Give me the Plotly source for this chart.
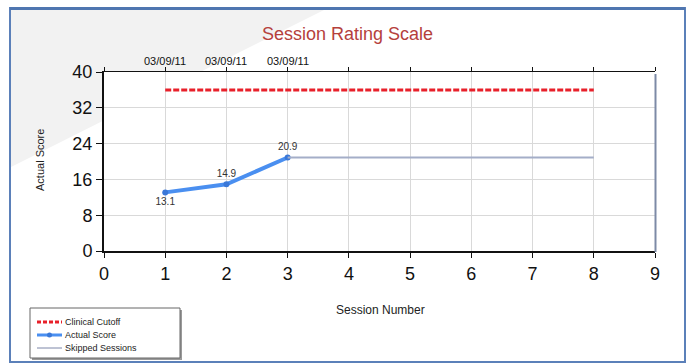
import plotly.graph_objects as go

# Session data
sessions = [1, 2, 3]
scores = [13.1, 14.9, 20.9]
session_dates = ["03/09/11", "03/09/11", "03/09/11"]

cutoff_x = [1, 8]
cutoff_y = [36, 36]

skipped_x = [3, 8]
skipped_y = [20.9, 20.9]

x_ticks = [0, 1, 2, 3, 4, 5, 6, 7, 8, 9]
y_ticks = [0, 8, 16, 24, 32, 40]

legend_names = ["Clinical Cutoff", "Actual Score", "Skipped Sessions"]

W, H = 690, 364
L, R, T, B = 104, 655, 72, 251  # plot area in pixels

RED = "#e8202a"
BLUE = "#4a8ff0"
GREY = "#a4aec8"
FONT = "Liberation Sans, Arial"


def px(x):
    return (x - L) / (R - L)


def py(y):
    return (B - y) / (B - T)


label_pos = ["bottom center", "top center", "top center"]

fig = go.Figure()

fig.add_trace(go.Scatter(
    x=cutoff_x, y=cutoff_y, mode="lines", name=legend_names[0],
    line=dict(color=RED, width=3, dash="6px,2px"),
))
fig.add_trace(go.Scatter(
    x=sessions, y=scores, mode="lines+markers+text", name=legend_names[1],
    line=dict(color=BLUE, width=4),
    marker=dict(color="#3a78d8", size=6),
    text=[f"{v:.1f}" for v in scores], textposition=label_pos,
    textfont=dict(family=FONT, size=10, color="#333333"),
))
fig.add_trace(go.Scatter(
    x=skipped_x, y=skipped_y, mode="lines", name=legend_names[2],
    line=dict(color=GREY, width=2),
))
# top axis: tick marks only, dates are written as annotations below
fig.add_trace(go.Scatter(x=[0, 9], y=[0, 0], xaxis="x2", mode="lines",
                         line=dict(width=0), showlegend=False, hoverinfo="skip"))

tick_font = dict(family=FONT, size=18, color="#111111")

fig.update_layout(
    width=W, height=H,
    margin=dict(l=L, r=W - R, t=T, b=H - B, autoexpand=False),
    paper_bgcolor="white", plot_bgcolor="white",
    showlegend=False,
    xaxis=dict(
        range=[0, 9], tickvals=x_ticks, showgrid=True, gridcolor="#d9d9d9",
        zeroline=False, showline=True, linecolor="#111111", linewidth=2,
        ticks="outside", ticklen=5, tickcolor="#111111",
        tickfont=tick_font,
    ),
    xaxis2=dict(
        range=[0, 9], overlaying="x", side="top", tickvals=x_ticks,
        showticklabels=False, showgrid=False, zeroline=False,
        showline=True, linecolor="#111111", linewidth=1,
        ticks="outside", ticklen=4, tickcolor="#111111",
    ),
    yaxis=dict(
        range=[0, 40], tickvals=y_ticks, showgrid=True, gridcolor="#d9d9d9",
        zeroline=False, showline=True, linecolor="#111111", linewidth=2,
        ticks="outside", ticklen=6, tickcolor="#111111",
        tickfont=tick_font,
    ),
)

shapes = [
    # light diagonal shading in the upper-left corner
    dict(type="path", xref="paper", yref="paper",
         path=f"M {px(11)} {py(10)} L {px(324)} {py(10)} L {px(11)} {py(167)} Z",
         fillcolor="#f2f2f2", line=dict(width=0), layer="below"),
    dict(type="rect", xref="paper", yref="paper",
         x0=0, x1=1, y0=0, y1=1, fillcolor="white", line=dict(width=0), layer="below"),
    # right edge of the plot area
    dict(type="line", xref="paper", yref="paper",
         x0=px(655.5), x1=px(655.5), y0=py(252), y1=py(74),
         line=dict(color="#7d8aa6", width=2)),
    # outer frame
    dict(type="rect", xref="paper", yref="paper",
         x0=px(10), x1=px(685), y0=py(362), y1=py(8),
         line=dict(color="#5b80b9", width=2), layer="above"),
    dict(type="line", xref="paper", yref="paper",
         x0=px(10), x1=px(685), y0=py(8.5), y1=py(8.5),
         line=dict(color="#4f76b0", width=3)),
    # legend box with a soft shadow
    dict(type="rect", xref="paper", yref="paper",
         x0=px(32), x1=px(182), y0=py(360), y1=py(310),
         fillcolor="#9a9a9a", line=dict(width=0)),
    dict(type="rect", xref="paper", yref="paper",
         x0=px(30), x1=px(180), y0=py(358), y1=py(308),
         fillcolor="white", line=dict(color="#666666", width=1)),
]

# legend samples
legend_rows = [322, 335, 348]
shapes += [
    dict(type="line", xref="paper", yref="paper",
         x0=px(37), x1=px(62), y0=py(legend_rows[0]), y1=py(legend_rows[0]),
         line=dict(color=RED, width=3, dash="4px,2px")),
    dict(type="line", xref="paper", yref="paper",
         x0=px(37), x1=px(62), y0=py(legend_rows[1]), y1=py(legend_rows[1]),
         line=dict(color=BLUE, width=3)),
    dict(type="circle", xref="paper", yref="paper",
         x0=px(47), x1=px(52), y0=py(legend_rows[1] + 2.5), y1=py(legend_rows[1] - 2.5),
         fillcolor="#3a78d8", line=dict(width=0)),
    dict(type="line", xref="paper", yref="paper",
         x0=px(37), x1=px(62), y0=py(legend_rows[2]), y1=py(legend_rows[2]),
         line=dict(color="#7d86a8", width=1)),
]
fig.update_layout(shapes=shapes)

for name, row in zip(legend_names, legend_rows):
    fig.add_annotation(
        text=name, xref="paper", yref="paper", x=px(63), y=py(row),
        xanchor="left", yanchor="middle", showarrow=False,
        font=dict(family=FONT, size=9, color="#222222"),
    )

# session dates above the top axis
for s, d in zip(sessions, session_dates):
    fig.add_annotation(
        text=d, xref="x", yref="paper", x=s, y=py(61),
        xanchor="center", yanchor="middle", showarrow=False,
        font=dict(family=FONT, size=11, color="#111111"),
    )

fig.add_annotation(
    text="Session Rating Scale", xref="paper", yref="paper",
    x=px(347), y=py(34), xanchor="center", yanchor="middle", showarrow=False,
    font=dict(family=FONT, size=18, color="#b5403c"),
)
fig.add_annotation(
    text="Session Number", xref="paper", yref="paper",
    x=px(380), y=py(310), xanchor="center", yanchor="middle", showarrow=False,
    font=dict(family=FONT, size=12, color="#222222"),
)
fig.add_annotation(
    text="Actual Score", xref="paper", yref="paper",
    x=px(40), y=py(160), xanchor="center", yanchor="middle", showarrow=False,
    textangle=-90,
    font=dict(family=FONT, size=11, color="#222222"),
)

fig.write_html("out.html")
